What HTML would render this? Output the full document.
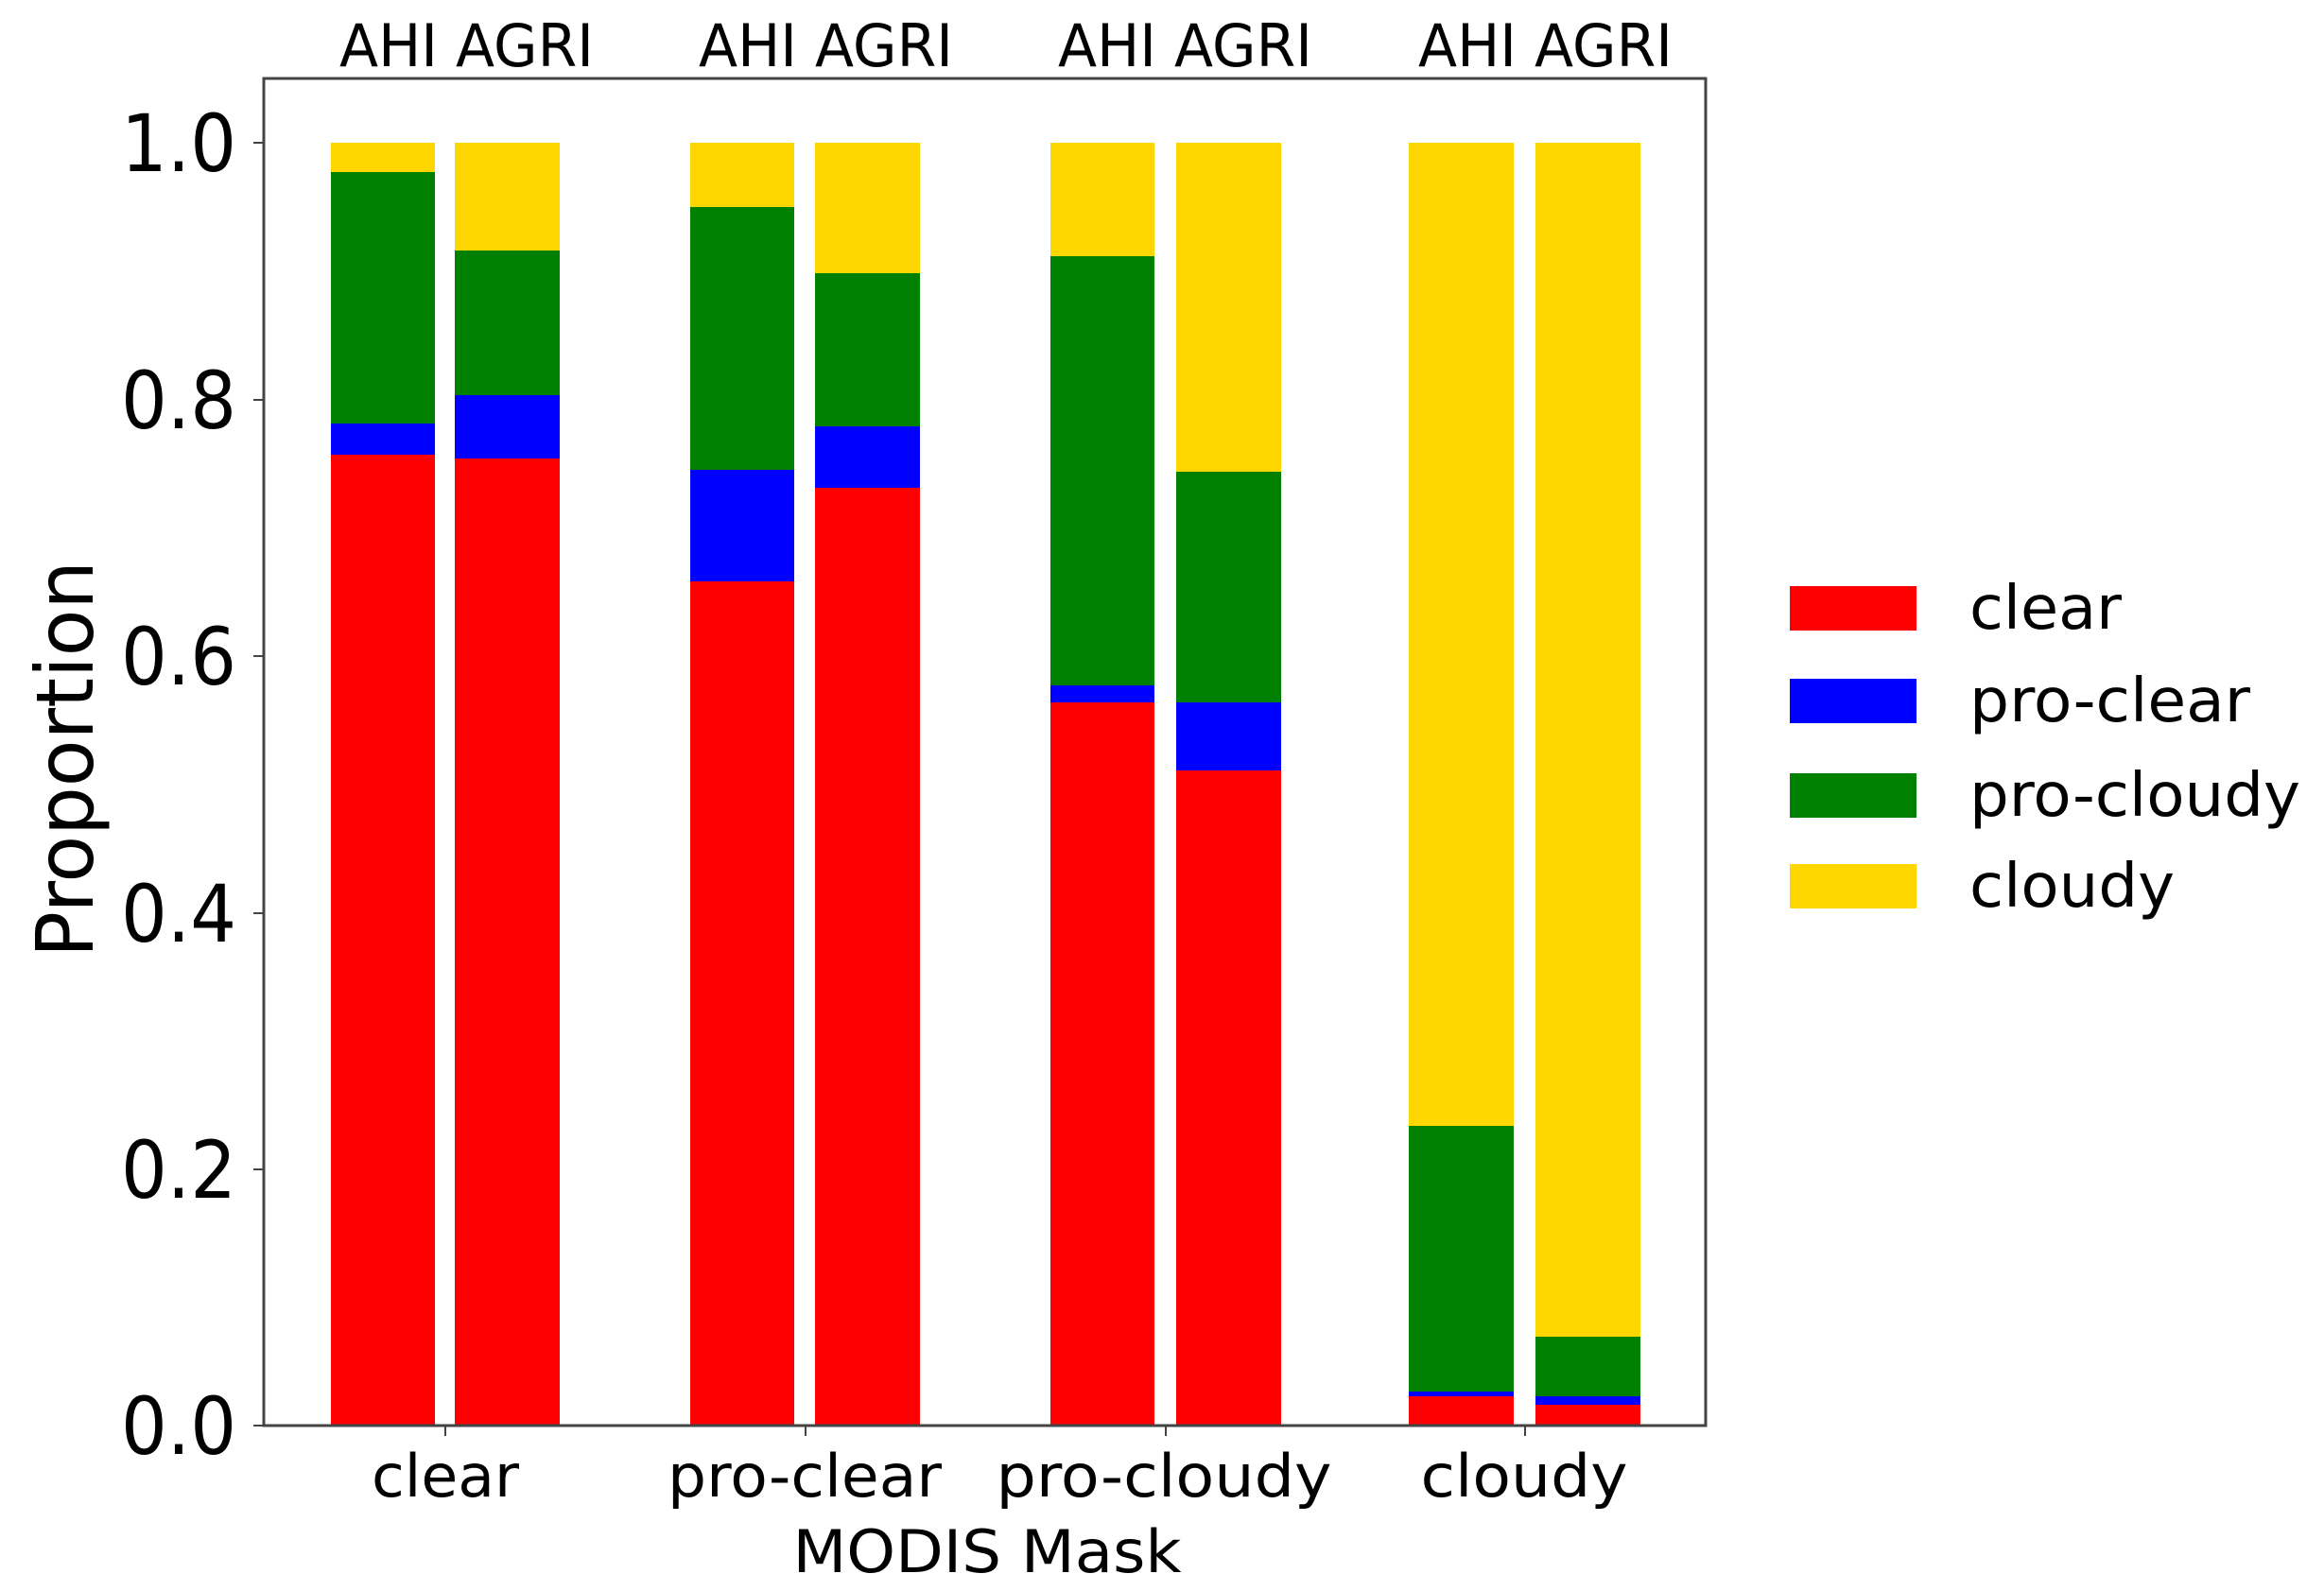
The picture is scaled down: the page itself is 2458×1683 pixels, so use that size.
<!DOCTYPE html>
<html><head><meta charset="utf-8"><style>
html,body{margin:0;padding:0;background:#fff;}
svg{display:block;}
text{font-family:"DejaVu Sans","Liberation Sans",sans-serif;fill:#000;}
</style></head><body>
<svg width="2458" height="1683" viewBox="0 0 2458 1683" xmlns="http://www.w3.org/2000/svg">
<!-- group 1 clear -->
<rect x="350" y="481" width="110" height="1027" fill="#ff0000"/>
<rect x="350" y="448" width="110" height="33" fill="#0000ff"/>
<rect x="350" y="182" width="110" height="266" fill="#008000"/>
<rect x="350" y="151" width="110" height="31" fill="#ffd700"/>
<rect x="481" y="485" width="111" height="1023" fill="#ff0000"/>
<rect x="481" y="418" width="111" height="67" fill="#0000ff"/>
<rect x="481" y="265" width="111" height="153" fill="#008000"/>
<rect x="481" y="151" width="111" height="114" fill="#ffd700"/>
<!-- group 2 pro-clear -->
<rect x="730" y="615" width="110" height="893" fill="#ff0000"/>
<rect x="730" y="497" width="110" height="118" fill="#0000ff"/>
<rect x="730" y="219" width="110" height="278" fill="#008000"/>
<rect x="730" y="151" width="110" height="68" fill="#ffd700"/>
<rect x="862" y="516" width="111" height="992" fill="#ff0000"/>
<rect x="862" y="451" width="111" height="65" fill="#0000ff"/>
<rect x="862" y="289" width="111" height="162" fill="#008000"/>
<rect x="862" y="151" width="111" height="138" fill="#ffd700"/>
<!-- group 3 pro-cloudy -->
<rect x="1111" y="743" width="110" height="765" fill="#ff0000"/>
<rect x="1111" y="725" width="110" height="18" fill="#0000ff"/>
<rect x="1111" y="271" width="110" height="454" fill="#008000"/>
<rect x="1111" y="151" width="110" height="120" fill="#ffd700"/>
<rect x="1244" y="815" width="111" height="693" fill="#ff0000"/>
<rect x="1244" y="743" width="111" height="72" fill="#0000ff"/>
<rect x="1244" y="499" width="111" height="244" fill="#008000"/>
<rect x="1244" y="151" width="111" height="348" fill="#ffd700"/>
<!-- group 4 cloudy -->
<rect x="1490" y="1477" width="111" height="31" fill="#ff0000"/>
<rect x="1490" y="1472" width="111" height="5" fill="#0000ff"/>
<rect x="1490" y="1191" width="111" height="281" fill="#008000"/>
<rect x="1490" y="151" width="111" height="1040" fill="#ffd700"/>
<rect x="1624" y="1486" width="111" height="22" fill="#ff0000"/>
<rect x="1624" y="1477" width="111" height="9" fill="#0000ff"/>
<rect x="1624" y="1414" width="111" height="63" fill="#008000"/>
<rect x="1624" y="151" width="111" height="1263" fill="#ffd700"/>
<!-- axes frame -->
<rect x="279" y="83" width="1525" height="1425" fill="none" stroke="#444" stroke-width="3"/>
<g stroke="#444" stroke-width="2">
<line x1="268" y1="151" x2="279" y2="151"/>
<line x1="268" y1="423" x2="279" y2="423"/>
<line x1="268" y1="694" x2="279" y2="694"/>
<line x1="268" y1="966" x2="279" y2="966"/>
<line x1="268" y1="1237" x2="279" y2="1237"/>
<line x1="268" y1="1508" x2="279" y2="1508"/>
<line x1="471" y1="1508" x2="471" y2="1519"/>
<line x1="852" y1="1508" x2="852" y2="1519"/>
<line x1="1233" y1="1508" x2="1233" y2="1519"/>
<line x1="1613" y1="1508" x2="1613" y2="1519"/>
</g>
<g font-size="84" text-anchor="end">
<text x="250" y="181" textLength="122" lengthAdjust="spacingAndGlyphs">1.0</text>
<text x="250" y="453" textLength="122" lengthAdjust="spacingAndGlyphs">0.8</text>
<text x="250" y="724" textLength="122" lengthAdjust="spacingAndGlyphs">0.6</text>
<text x="250" y="996" textLength="122" lengthAdjust="spacingAndGlyphs">0.4</text>
<text x="250" y="1267" textLength="122" lengthAdjust="spacingAndGlyphs">0.2</text>
<text x="250" y="1538" textLength="122" lengthAdjust="spacingAndGlyphs">0.0</text>
</g>
<text font-size="84" transform="translate(98,1013) rotate(-90)" textLength="420" lengthAdjust="spacingAndGlyphs">Proportion</text>
<g font-size="62" text-anchor="middle">
<text x="471" y="1583" textLength="156" lengthAdjust="spacingAndGlyphs">clear</text>
<text x="851" y="1583" textLength="290" lengthAdjust="spacingAndGlyphs">pro-clear</text>
<text x="1231" y="1583" textLength="355" lengthAdjust="spacingAndGlyphs">pro-cloudy</text>
<text x="1612" y="1583" textLength="219" lengthAdjust="spacingAndGlyphs">cloudy</text>
<text x="1044" y="1663" textLength="411" lengthAdjust="spacingAndGlyphs">MODIS Mask</text>
</g>
<g font-size="62">
<text x="359" y="70" textLength="269" lengthAdjust="spacingAndGlyphs">AHI AGRI</text>
<text x="739" y="70" textLength="269" lengthAdjust="spacingAndGlyphs">AHI AGRI</text>
<text x="1119" y="70" textLength="269" lengthAdjust="spacingAndGlyphs">AHI AGRI</text>
<text x="1500" y="70" textLength="269" lengthAdjust="spacingAndGlyphs">AHI AGRI</text>
</g>
<rect x="1893" y="620" width="134" height="47" fill="#ff0000"/>
<rect x="1893" y="718" width="134" height="47" fill="#0000ff"/>
<rect x="1893" y="818" width="134" height="47" fill="#008000"/>
<rect x="1893" y="914" width="134" height="47" fill="#ffd700"/>
<g font-size="64">
<text x="2083" y="665" textLength="161" lengthAdjust="spacingAndGlyphs">clear</text>
<text x="2083" y="763" textLength="297" lengthAdjust="spacingAndGlyphs">pro-clear</text>
<text x="2083" y="863" textLength="350" lengthAdjust="spacingAndGlyphs">pro-cloudy</text>
<text x="2083" y="959" textLength="217" lengthAdjust="spacingAndGlyphs">cloudy</text>
</g>
</svg>
</body></html>
